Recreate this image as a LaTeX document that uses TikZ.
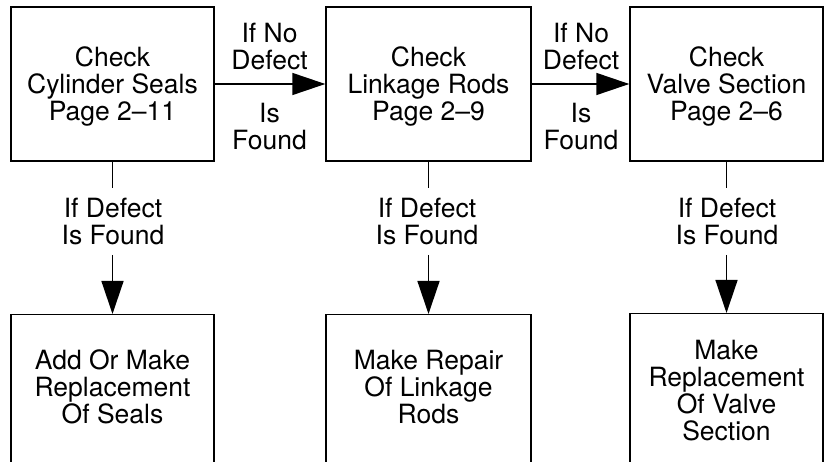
\documentclass[tikz,border=0pt]{standalone}
\usepackage{fontspec}
\setmainfont{TeX Gyre Heros}
\usetikzlibrary{arrows.meta}
\newcommand{\fz}{\fontsize{26.5}{27}\selectfont}
\begin{document}
\begin{tikzpicture}[x=1pt,y=-1pt,
  box/.style={draw, line width=1.4pt, minimum height=154pt, inner sep=0pt},
  obox/.style={draw, line width=1.4pt, minimum height=220pt, inner sep=0pt, anchor=north},
  lbl/.style={align=center, inner sep=0pt, font=\fz},
  arr/.style={line width=1.4pt, -{Triangle[length=33pt,width=22pt]}},
  ln/.style={line width=1.4pt}]
\useasboundingbox (0,0) rectangle (833,462);
\clip (0,0) rectangle (833,462);
% top boxes
\node[box, minimum width=203pt] (b1) at (112.5,84) {};
\node[box, minimum width=205pt] (b2) at (428.5,84) {};
\node[box, minimum width=193pt] (b3) at (726.5,84) {};
\node[lbl] (c1) at (112.5,86.3) {Check\\Cylinder Seals\\Page 2--11};
\node[lbl] (c2) at (428.5,86.3) {Check\\Linkage Rods\\Page 2--9};
\node[lbl] (c3) at (726.5,86.3) {Check\\Valve Section\\Page 2--6};
% bottom boxes
\node[obox, minimum width=203pt] (r1) at (112.5,314) {};
\node[obox, minimum width=205pt] (r2) at (428.5,314) {};
\node[obox, minimum width=193pt] (r3) at (726.5,313) {};
\node[lbl] (t1) at (112.5,387) {Add Or Make\\Replacement\\Of Seals};
\node[lbl] (t2) at (428.5,387) {Make Repair\\Of Linkage\\Rods};
\node[lbl] (t3) at (726.5,391) {Make\\Replacement\\Of Valve\\Section};
% horizontal arrows
\draw[arr] (b1.east) -- (b2.west);
\draw[arr] (b2.east) -- (b3.west);
\node[lbl] (h1a) at (269.5,46.7) {If No\\Defect};
\node[lbl] (h1b) at (269.5,127) {Is\\Found};
\node[lbl] (h2a) at (581,46.7) {If No\\Defect};
\node[lbl] (h2b) at (581,127) {Is\\Found};
% vertical connectors
\node[lbl] (v1) at (113,221.3) {If Defect\\Is Found};
\node[lbl] (v2) at (427,221.3) {If Defect\\Is Found};
\node[lbl] (v3) at (727,221.3) {If Defect\\Is Found};
\coordinate (v1a) at (112.5,188.5); \coordinate (v1b) at (112.5,255);
\coordinate (v2a) at (428.5,188.5); \coordinate (v2b) at (428.5,255);
\coordinate (v3a) at (726.5,188.5); \coordinate (v3b) at (726.5,255);
\draw[ln] (b1.south) -- (v1a);
\draw[ln] (b2.south) -- (v2a);
\draw[ln] (b3.south) -- (v3a);
\draw[arr] (v1b) -- (r1.north);
\draw[arr] (v2b) -- (r2.north);
\draw[arr] (v3b) -- (r3.north);
\end{tikzpicture}
\end{document}
